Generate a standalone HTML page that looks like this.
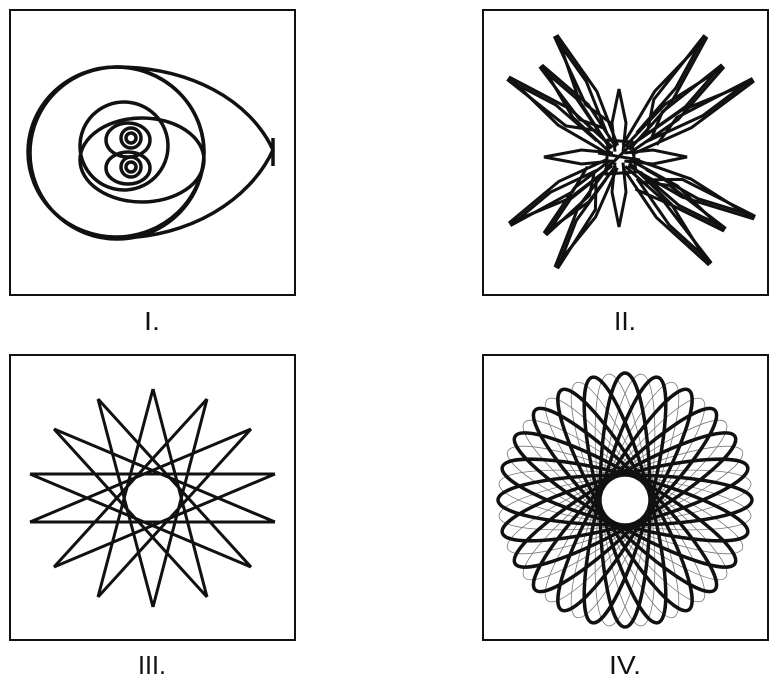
<!DOCTYPE html>
<html><head><meta charset="utf-8"><style>
html,body{margin:0;padding:0;background:#fff;width:781px;height:682px;overflow:hidden}
svg{display:block}
text{font-family:"Liberation Sans",sans-serif;font-size:26px;fill:#111}
</style></head><body>
<svg id="s" width="781" height="682" viewBox="0 0 781 682" xmlns="http://www.w3.org/2000/svg">
<g fill="none" stroke="#111" stroke-width="2">
<rect x="10" y="10" width="285" height="285"/>
<rect x="483" y="10" width="285" height="285"/>
<rect x="10" y="355" width="285" height="285"/>
<rect x="483" y="355" width="285" height="285"/>
</g>
<g fill="none" stroke="#111" stroke-width="3.5">
<ellipse cx="116" cy="152" rx="88" ry="85"/>
<ellipse cx="117" cy="153" rx="87" ry="86"/>
<path d="M116,67 C190,67 250,100 273,150 C250,200 190,238 116,238"/>
<line x1="273" y1="138" x2="273" y2="166"/>
<circle cx="124" cy="146" r="44"/>
<ellipse cx="142" cy="160" rx="62" ry="42"/>
<ellipse cx="128" cy="140" rx="22" ry="17"/>
<ellipse cx="128" cy="168" rx="22" ry="16"/>
<circle cx="131" cy="138" r="10"/>
<circle cx="131" cy="167" r="10"/>
<circle cx="131" cy="138" r="5"/>
<circle cx="131" cy="167" r="5"/>
</g>
<g id="two" fill="none" stroke="#111" stroke-width="3" stroke-linejoin="miter"></g>
<g id="three" fill="none" stroke="#111" stroke-width="3"></g>
<g id="four" fill="none"></g>
<text x="144" y="330" textLength="16" lengthAdjust="spacingAndGlyphs">I.</text>
<text x="614" y="330" textLength="22" lengthAdjust="spacingAndGlyphs">II.</text>
<text x="138" y="674" textLength="28" lengthAdjust="spacingAndGlyphs">III.</text>
<text x="609" y="674" textLength="32" lengthAdjust="spacingAndGlyphs">IV.</text>
</svg>
<script>
var NS="http://www.w3.org/2000/svg";
function add(g,tag,attrs){var e=document.createElementNS(NS,tag);for(var k in attrs)e.setAttribute(k,attrs[k]);document.getElementById(g).appendChild(e);}
var cx=619,cy=157;
var tips=[[557,35],[542,65],[509,77],[619,89],[544,157],[687,157],[619,227],[509,223],[544,233],[555,267],[707,37],[724,67],[754,81],[754,219],[724,231],[709,265]];
tips.forEach(function(t,i){
 var vx=t[0]-cx,vy=t[1]-cy,L=Math.hypot(vx,vy),px=-vy/L,py=vx/L;
 var small=(i>=3&&i<=6);
 var w=small?7:10;
 var p=[[cx+vx*0.08+px*4,cy+vy*0.08+py*4],[cx+vx*0.5+px*w,cy+vy*0.5+py*w],[t[0],t[1]],[cx+vx*0.5-px*w,cy+vy*0.5-py*w],[cx+vx*0.08-px*4,cy+vy*0.08-py*4]];
 add("two","polyline",{points:p.map(function(q){return q[0].toFixed(1)+","+q[1].toFixed(1)}).join(" ")});
 if(!small){
 var q=[[cx+vx*0.2,cy+vy*0.2],[cx+vx*0.6+px*5,cy+vy*0.6+py*5],[t[0]-px*3,t[1]-py*3],[cx+vx*0.45-px*6,cy+vy*0.45-py*6],[cx+vx*0.25+px*8,cy+vy*0.25+py*8]];
 add("two","polyline",{points:q.map(function(r){return r[0].toFixed(1)+","+r[1].toFixed(1)}).join(" ")});
 }
});
add("two","line",{x1:598,y1:153,x2:640,y2:160});
add("two","line",{x1:605,y1:170,x2:634,y2:142});
add("two","polygon",{points:"608,140 632,142 636,172 606,174"});
var st=[[153,389],[207,399],[251,429],[275,474],[275,522],[251,567],[207,597],[153,607],[98,597],[54,567],[30,522],[30,474],[54,429],[98,399]];
for(var i=0;i<14;i++){var a=st[i],b=st[(i+6)%14];add("three","line",{x1:a[0],y1:a[1],x2:b[0],y2:b[1]});}
for(var k=0;k<12;k++){add("four","ellipse",{cx:625,cy:500,rx:127,ry:25,transform:"rotate("+(k*15+7.5)+" 625 500)",stroke:"#777","stroke-width":"0.8"});}
for(var k=0;k<12;k++){add("four","ellipse",{cx:625,cy:500,rx:127,ry:25,transform:"rotate("+(k*15)+" 625 500)",stroke:"#111","stroke-width":"3.5"});}
</script>
</body></html>
